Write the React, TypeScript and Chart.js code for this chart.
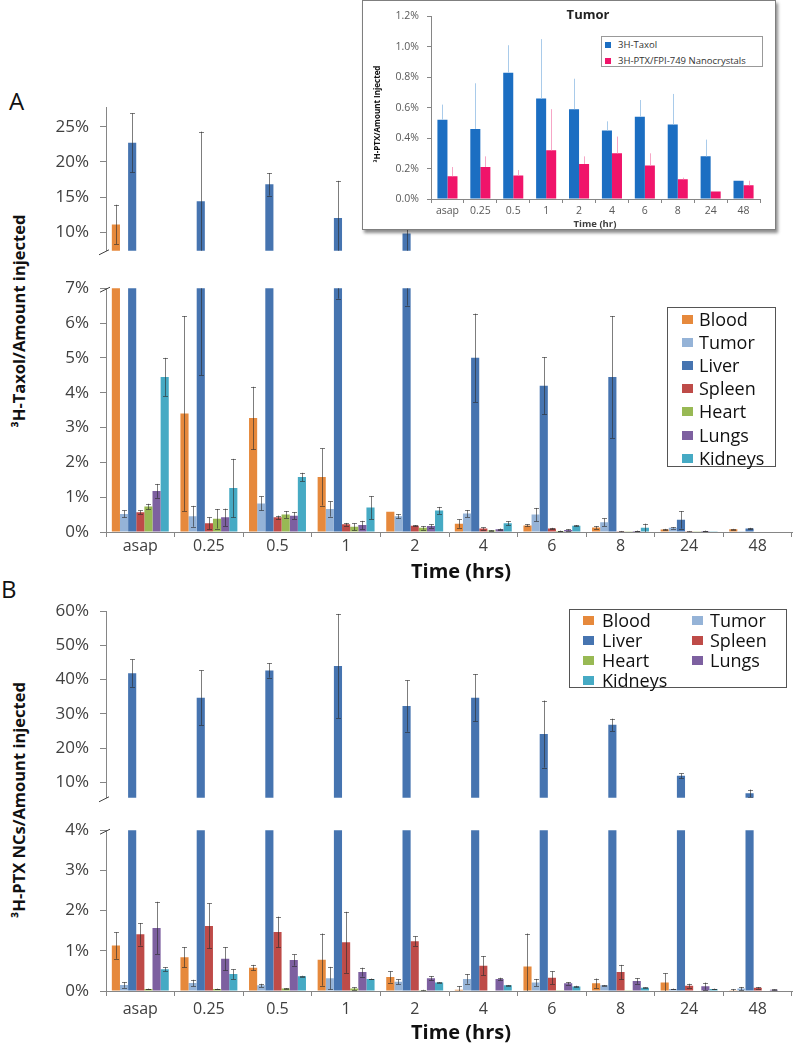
import React, { useEffect, useRef } from 'react';
import { Chart, registerables } from 'chart.js';

Chart.register(...registerables);

const FONT = '"Open Sans", "DejaVu Sans", sans-serif';
const AXIS = '#868686';
const TICK_TEXT = '#404040';

// ---------- data ----------
const timeLabels = ['asap', '0.25', '0.5', '1', '2', '4', '6', '8', '24', '48'];
const organNames = ['Blood', 'Tumor', 'Liver', 'Spleen', 'Heart', 'Lungs', 'Kidneys'];
const organColors = ['#E6893C', '#95B3D7', '#4674B0', '#BE4B48', '#98B954', '#7D60A0', '#46AAC4'];

// Panel A: 3H-Taxol (% of amount injected)
const taxolBlood = [11.1, 3.4, 3.27, 1.58, 0.58, 0.24, 0.19, 0.13, 0.07, 0.08];
const taxolBloodErr = [2.8, 2.8, 0.9, 0.82, 0, 0.12, 0.03, 0.04, 0.02, 0.01];
const taxolTumor = [0.52, 0.45, 0.82, 0.66, 0.45, 0.53, 0.5, 0.28, 0.12, 0.01];
const taxolTumorErr = [0.1, 0.3, 0.2, 0.22, 0.06, 0.1, 0.19, 0.11, 0.02, 0];
const taxolLiver = [22.7, 14.4, 16.8, 12.0, 9.8, 5.0, 4.2, 4.45, 0.35, 0.1];
const taxolLiverErr = [4.2, 9.9, 1.6, 5.3, 3.3, 1.27, 0.82, 1.75, 0.25, 0.02];
const taxolSpleen = [0.57, 0.25, 0.42, 0.22, 0.18, 0.1, 0.1, 0.02, 0.02, 0];
const taxolSpleenErr = [0.05, 0.17, 0.05, 0.04, 0.02, 0.03, 0.02, 0.01, 0.01, 0];
const taxolHeart = [0.73, 0.38, 0.5, 0.15, 0.12, 0.04, 0.03, 0.01, 0.01, 0];
const taxolHeartErr = [0.08, 0.28, 0.1, 0.1, 0.05, 0.01, 0.01, 0, 0, 0];
const taxolLungs = [1.18, 0.42, 0.47, 0.2, 0.17, 0.08, 0.06, 0.03, 0.03, 0];
const taxolLungsErr = [0.2, 0.25, 0.1, 0.12, 0.05, 0.02, 0.02, 0.01, 0.01, 0];
const taxolKidneys = [4.45, 1.26, 1.58, 0.7, 0.62, 0.25, 0.18, 0.12, 0.01, 0];
const taxolKidneysErr = [0.55, 0.84, 0.12, 0.33, 0.1, 0.06, 0.02, 0.12, 0, 0];

// Panel B: 3H-PTX nanocrystals (% of amount injected)
const ncBlood = [1.13, 0.84, 0.58, 0.78, 0.35, 0.03, 0.61, 0.19, 0.21, 0.02];
const ncBloodErr = [0.33, 0.25, 0.07, 0.65, 0.14, 0.09, 0.82, 0.12, 0.23, 0.03];
const ncTumor = [0.15, 0.2, 0.14, 0.32, 0.23, 0.3, 0.21, 0.14, 0.05, 0.06];
const ncTumorErr = [0.07, 0.08, 0.04, 0.28, 0.06, 0.12, 0.09, 0.01, 0.01, 0.04];
const ncLiver = [41.9, 34.7, 42.7, 44.0, 32.3, 34.7, 24.1, 26.8, 11.9, 6.8];
const ncLiverErr = [4.0, 8.0, 2.1, 15.2, 7.5, 6.9, 9.8, 1.8, 0.7, 1.1];
const ncSpleen = [1.41, 1.62, 1.47, 1.21, 1.24, 0.63, 0.33, 0.47, 0.13, 0.08];
const ncSpleenErr = [0.28, 0.56, 0.38, 0.76, 0.12, 0.24, 0.16, 0.18, 0.05, 0.02];
const ncHeart = [0.05, 0.05, 0.06, 0.06, 0.02, 0.01, 0.02, 0.02, 0.01, 0];
const ncHeartErr = [0.01, 0.01, 0.01, 0.03, 0.01, 0, 0, 0, 0, 0];
const ncLungs = [1.57, 0.8, 0.77, 0.47, 0.32, 0.3, 0.19, 0.25, 0.12, 0.03];
const ncLungsErr = [0.65, 0.29, 0.14, 0.11, 0.05, 0.03, 0.03, 0.07, 0.09, 0.01];
const ncKidneys = [0.54, 0.42, 0.37, 0.3, 0.21, 0.14, 0.11, 0.08, 0.05, 0.01];
const ncKidneysErr = [0.05, 0.12, 0.01, 0.01, 0.01, 0.01, 0.02, 0.01, 0.01, 0];

// Inset: Tumor
const insetNames = ['3H-Taxol', '3H-PTX/FPI-749 Nanocrystals'];
const insetColors = ['#1B6EC2', '#F0146A'];
const insetErrColors = ['#A9CBEA', '#F6A6C6'];
const insetTaxol = [0.52, 0.46, 0.83, 0.66, 0.59, 0.45, 0.54, 0.49, 0.28, 0.12];
const insetTaxolErr = [0.1, 0.3, 0.18, 0.39, 0.2, 0.06, 0.11, 0.2, 0.11, 0];
const insetNC = [0.15, 0.21, 0.155, 0.32, 0.23, 0.3, 0.22, 0.13, 0.05, 0.09];
const insetNCErr = [0.06, 0.07, 0.035, 0.27, 0.05, 0.11, 0.08, 0.01, 0, 0.03];

// tick values
const taxolUpperTicks = [10, 15, 20, 25];
const taxolLowerTicks = [0, 1, 2, 3, 4, 5, 6, 7];
const ncUpperTicks = [10, 20, 30, 40, 50, 60];
const ncLowerTicks = [0, 1, 2, 3, 4];
const insetTicks = [0, 0.1, 0.2, 0.3, 0.4, 0.5, 0.6, 0.7, 0.8, 0.9, 1.0, 1.1, 1.2];

const taxolValues = [taxolBlood, taxolTumor, taxolLiver, taxolSpleen, taxolHeart, taxolLungs, taxolKidneys];
const taxolErrors = [taxolBloodErr, taxolTumorErr, taxolLiverErr, taxolSpleenErr, taxolHeartErr, taxolLungsErr, taxolKidneysErr];
const ncValues = [ncBlood, ncTumor, ncLiver, ncSpleen, ncHeart, ncLungs, ncKidneys];
const ncErrors = [ncBloodErr, ncTumorErr, ncLiverErr, ncSpleenErr, ncHeartErr, ncLungsErr, ncKidneysErr];

// ---------- plugins ----------
const errorBarPlugin = {
  id: 'errorBars',
  afterDatasetsDraw(chart: any, _args: any, opts: any) {
    const { ctx, chartArea } = chart;
    const y = chart.scales.y;
    ctx.save();
    ctx.beginPath();
    ctx.rect(chartArea.left - 6, chartArea.top, chartArea.right - chartArea.left + 12, chartArea.bottom - chartArea.top);
    ctx.clip();
    chart.data.datasets.forEach((ds: any, di: number) => {
      const errs = ds.errors;
      if (!errs) return;
      const meta = chart.getDatasetMeta(di);
      meta.data.forEach((el: any, j: number) => {
        const v = ds.data[j];
        const e = errs[j];
        if (!e) return;
        const x = Math.round(el.x) + 0.5;
        const top = y.getPixelForValue(v + e);
        const bot = opts.upOnly ? y.getPixelForValue(v) : y.getPixelForValue(v - e);
        const cap = opts.cap || 0;
        ctx.strokeStyle = ds.errColor || opts.color;
        ctx.lineWidth = 1;
        ctx.beginPath();
        ctx.moveTo(x, top);
        ctx.lineTo(x, bot);
        if (cap) {
          ctx.moveTo(x - cap, Math.round(top) + 0.5);
          ctx.lineTo(x + cap, Math.round(top) + 0.5);
          if (!opts.upOnly) {
            ctx.moveTo(x - cap, Math.round(bot) + 0.5);
            ctx.lineTo(x + cap, Math.round(bot) + 0.5);
          }
        }
        ctx.stroke();
      });
    });
    ctx.restore();
  },
};

const breakPlugin = {
  id: 'breakMarks',
  afterDraw(chart: any, _args: any, opts: any) {
    if (!opts || (!opts.top && !opts.bottom)) return;
    const { ctx, chartArea } = chart;
    const { left, top, bottom } = chartArea;
    ctx.save();
    ctx.strokeStyle = '#404040';
    ctx.lineWidth = 1;
    ctx.beginPath();
    if (opts.bottom) {
      ctx.moveTo(left - 7, bottom + 4);
      ctx.lineTo(left + 3, bottom - 1);
    }
    if (opts.top) {
      ctx.moveTo(left - 6, top + 4);
      ctx.lineTo(left + 4, top - 1);
    }
    ctx.stroke();
    ctx.restore();
  },
};

// ---------- config ----------
type Spec = {
  canvas: { x: number; y: number; w: number; h: number };
  area: { l: number; t: number; r: number; b: number };
  min: number;
  max: number;
  ticks: number[];
  fmt: (v: number, i: number) => string;
  showX: boolean;
  datasets: any[];
  catPct: number;
  yFont: number;
  xFont: number;
  yTickLen: number;
  yPad: number;
  xTickLen: number;
  xPad: number;
  tickColor: string;
  err: any;
  breakTop?: boolean;
  breakBottom?: boolean;
  z?: number;
};

function organDatasets(values: number[][], errors: number[][]) {
  return organNames.map((name, i) => ({
    label: name,
    data: values[i],
    errors: errors[i],
    backgroundColor: organColors[i],
    borderWidth: 0,
    clip: 0,
  }));
}

function makeConfig(s: Spec): any {
  const yWidth = s.area.l - s.canvas.x;
  const padTop = s.area.t - s.canvas.y;
  const padRight = s.canvas.x + s.canvas.w - s.area.r;
  const bottomSpace = s.canvas.y + s.canvas.h - s.area.b;
  const xScale: any = {
    display: s.showX,
    type: 'category',
    offset: true,
    grid: { display: true, offset: true, drawOnChartArea: false, drawTicks: true, tickLength: s.xTickLen, color: AXIS },
    border: { display: true, color: AXIS },
    ticks: { font: { family: FONT, size: s.xFont }, color: s.tickColor, padding: s.xPad, maxRotation: 0, autoSkip: false },
  };
  if (s.showX) {
    xScale.afterFit = (sc: any) => {
      sc.height = bottomSpace;
    };
  }
  return {
    type: 'bar',
    data: { labels: timeLabels, datasets: s.datasets },
    options: {
      responsive: false,
      maintainAspectRatio: false,
      animation: false,
      devicePixelRatio: 1,
      layout: { padding: { left: 0, top: padTop, right: padRight, bottom: s.showX ? 0 : bottomSpace } },
      plugins: {
        legend: { display: false },
        tooltip: { enabled: false },
        title: { display: false },
        errorBars: s.err,
        breakMarks: { top: !!s.breakTop, bottom: !!s.breakBottom },
      },
      datasets: { bar: { categoryPercentage: s.catPct, barPercentage: 1 } },
      scales: {
        x: xScale,
        y: {
          type: 'linear',
          min: s.min,
          max: s.max,
          afterBuildTicks: (sc: any) => {
            sc.ticks = s.ticks.map((v) => ({ value: v }));
          },
          grid: { display: true, drawOnChartArea: false, drawTicks: true, tickLength: s.yTickLen, color: AXIS },
          border: { display: true, color: AXIS },
          ticks: {
            callback: (v: any, i: number) => s.fmt(Number(v), i),
            font: { family: FONT, size: s.yFont },
            color: s.tickColor,
            padding: s.yPad,
          },
          afterFit: (sc: any) => {
            sc.width = yWidth;
          },
        },
      },
    },
    plugins: [errorBarPlugin, breakPlugin],
  };
}

const pct = (v: number) => `${v}%`;
const mainErr = { color: 'rgba(45,45,45,0.62)', cap: 2.5, upOnly: false };

const taxolUpperSpec: Spec = {
  canvas: { x: 40, y: 86, w: 753, h: 186 },
  area: { l: 106, t: 98, r: 792, b: 260 },
  min: 7.35, max: 27.77, ticks: taxolUpperTicks, fmt: pct, showX: false,
  datasets: organDatasets(taxolValues, taxolErrors), catPct: 0.83,
  yFont: 17, xFont: 16, yTickLen: 6, yPad: 11, xTickLen: 5, xPad: 0, tickColor: TICK_TEXT,
  err: mainErr, breakBottom: true,
};
const taxolLowerSpec: Spec = {
  canvas: { x: 40, y: 267, w: 753, h: 292 },
  area: { l: 106, t: 279, r: 792, b: 532 },
  min: 0, max: 7, ticks: taxolLowerTicks, fmt: pct, showX: true,
  datasets: organDatasets(taxolValues, taxolErrors), catPct: 0.83,
  yFont: 17, xFont: 16, yTickLen: 6, yPad: 11, xTickLen: 5, xPad: 0, tickColor: TICK_TEXT,
  err: mainErr, breakTop: true,
};
const ncUpperSpec: Spec = {
  canvas: { x: 40, y: 590, w: 753, h: 229 },
  area: { l: 106, t: 602, r: 792, b: 807 },
  min: 5.48, max: 60, ticks: ncUpperTicks, fmt: pct, showX: false,
  datasets: organDatasets(ncValues, ncErrors), catPct: 0.83,
  yFont: 17, xFont: 16, yTickLen: 6, yPad: 11, xTickLen: 5, xPad: 4, tickColor: TICK_TEXT,
  err: mainErr, breakBottom: true,
};
const ncLowerSpec: Spec = {
  canvas: { x: 40, y: 809, w: 753, h: 222 },
  area: { l: 106, t: 821, r: 792, b: 991 },
  min: 0, max: 4, ticks: ncLowerTicks, fmt: pct, showX: true,
  datasets: organDatasets(ncValues, ncErrors), catPct: 0.83,
  yFont: 17, xFont: 16, yTickLen: 6, yPad: 11, xTickLen: 5, xPad: 4, tickColor: TICK_TEXT,
  err: mainErr, breakTop: true,
};
const insetSpec: Spec = {
  canvas: { x: 385, y: 2, w: 387, h: 226 },
  area: { l: 431, t: 14, r: 760, b: 199 },
  min: 0, max: 1.2, ticks: insetTicks,
  fmt: (v, i) => (i % 2 === 0 ? `${v.toFixed(1)}%` : ''),
  showX: true,
  datasets: [
    { label: insetNames[0], data: insetTaxol, errors: insetTaxolErr, errColor: insetErrColors[0], backgroundColor: insetColors[0], borderWidth: 0, clip: 0 },
    { label: insetNames[1], data: insetNC, errors: insetNCErr, errColor: insetErrColors[1], backgroundColor: insetColors[1], borderWidth: 0, clip: 0 },
  ],
  catPct: 0.61,
  yFont: 10.5, xFont: 10.5, yTickLen: 4, yPad: 8, xTickLen: 4, xPad: 2, tickColor: '#595959',
  err: { color: '#aaa', cap: 0, upOnly: true },
  z: 2,
};

// ---------- components ----------
function BarCanvas({ spec }: { spec: Spec }) {
  const ref = useRef<HTMLCanvasElement>(null);
  useEffect(() => {
    if (!ref.current) return;
    const chart = new Chart(ref.current, makeConfig(spec));
    return () => chart.destroy();
  }, [spec]);
  const c = spec.canvas;
  return (
    <canvas
      ref={ref}
      width={c.w}
      height={c.h}
      style={{ position: 'absolute', left: c.x, top: c.y, width: c.w, height: c.h, zIndex: spec.z || 0 }}
    />
  );
}

const abs = (extra: any): any => ({ position: 'absolute', whiteSpace: 'nowrap', ...extra });

function RotatedTitle({ text, cx, cy, size, z }: { text: string; cx: number; cy: number; size: number; z?: number }) {
  return (
    <div
      style={abs({
        left: cx,
        top: cy,
        transform: 'translate(-50%, -50%) rotate(-90deg)',
        fontFamily: FONT,
        fontWeight: 700,
        fontSize: size,
        lineHeight: `${size}px`,
        color: '#111',
        zIndex: z || 0,
      })}
    >
      {text}
    </div>
  );
}

function OrganLegendA() {
  return (
    <div style={abs({ left: 667, top: 307, width: 107, height: 158, border: '1px solid #555', background: '#fff', zIndex: 1 })}>
      {organNames.map((name, i) => (
        <div key={name} style={abs({ left: 14, top: 11 - 11.5 + i * 23.2, height: 23, display: 'flex', alignItems: 'center' })}>
          <span style={{ display: 'inline-block', width: 11, height: 9, background: organColors[i], marginRight: 6 }} />
          <span style={{ fontFamily: FONT, fontSize: 18, lineHeight: '23px', color: '#111' }}>{name}</span>
        </div>
      ))}
    </div>
  );
}

function OrganLegendB() {
  return (
    <div style={abs({ left: 569, top: 609, width: 216, height: 77, border: '1px solid #555', background: '#fff', zIndex: 1 })}>
      {organNames.map((name, i) => {
        const col = i % 2;
        const row = Math.floor(i / 2);
        return (
          <div key={name} style={abs({ left: col === 0 ? 13 : 122, top: 10 - 10 + row * 20, height: 20, display: 'flex', alignItems: 'center' })}>
            <span style={{ display: 'inline-block', width: 11, height: 9, background: organColors[i], marginRight: col === 0 ? 8 : 7 }} />
            <span style={{ fontFamily: FONT, fontSize: 18, lineHeight: '20px', color: '#111' }}>{name}</span>
          </div>
        );
      })}
    </div>
  );
}

function InsetLegend() {
  return (
    <div style={abs({ left: 601, top: 36, width: 160, height: 29, border: '1px solid #999', background: '#fff', zIndex: 3 })}>
      {insetNames.map((name, i) => (
        <div key={name} style={abs({ left: 3, top: 1 + i * 16, height: 14, display: 'flex', alignItems: 'center' })}>
          <span style={{ display: 'inline-block', width: 6, height: 6, background: insetColors[i], marginRight: 7 }} />
          <span style={{ fontFamily: FONT, fontSize: 9.5, lineHeight: '14px', color: '#333' }}>{name}</span>
        </div>
      ))}
    </div>
  );
}

export default function App() {
  return (
    <div style={abs({ left: 0, top: 0, width: 793, height: 1043, background: '#fff', overflow: 'hidden', fontFamily: FONT })}>
      <BarCanvas spec={taxolUpperSpec} />
      <BarCanvas spec={taxolLowerSpec} />
      <BarCanvas spec={ncUpperSpec} />
      <BarCanvas spec={ncLowerSpec} />

      {/* Panel A texts */}
      <div style={abs({ left: 9, top: 89, fontSize: 24, lineHeight: '24px', color: '#111' })}>A</div>
      <RotatedTitle text="³H-Taxol/Amount injected" cx={19} cy={321} size={16.5} />
      <div style={abs({ left: 461, top: 561, transform: 'translateX(-50%)', fontSize: 20, fontWeight: 700, lineHeight: '20px', color: '#111' })}>
        Time (hrs)
      </div>
      <OrganLegendA />

      {/* Panel B texts */}
      <div style={abs({ left: 1, top: 577, fontSize: 24, lineHeight: '24px', color: '#111' })}>B</div>
      <RotatedTitle text="³H-PTX NCs/Amount injected" cx={19} cy={800} size={16.5} />
      <div style={abs({ left: 461, top: 1022, transform: 'translateX(-50%)', fontSize: 20, fontWeight: 700, lineHeight: '20px', color: '#111' })}>
        Time (hrs)
      </div>
      <OrganLegendB />

      {/* Inset */}
      <div style={abs({ left: 362, top: 0, width: 412, height: 228, border: '1px solid #7f7f7f', background: '#fff', boxShadow: '2px 3px 3px rgba(0,0,0,0.45)', zIndex: 1 })} />
      <BarCanvas spec={insetSpec} />
      <div style={abs({ left: 588, top: 14, transform: 'translate(-50%, -50%)', fontSize: 13, fontWeight: 700, lineHeight: '14px', color: '#222', zIndex: 3 })}>Tumor</div>
      <div style={abs({ left: 595, top: 224, transform: 'translate(-50%, -50%)', fontSize: 9.5, fontWeight: 700, lineHeight: '12px', color: '#404040', zIndex: 3 })}>Time (hr)</div>
      <RotatedTitle text="³H-PTX/Amount  Injected" cx={377} cy={114} size={8} z={3} />
      <InsetLegend />
    </div>
  );
}
